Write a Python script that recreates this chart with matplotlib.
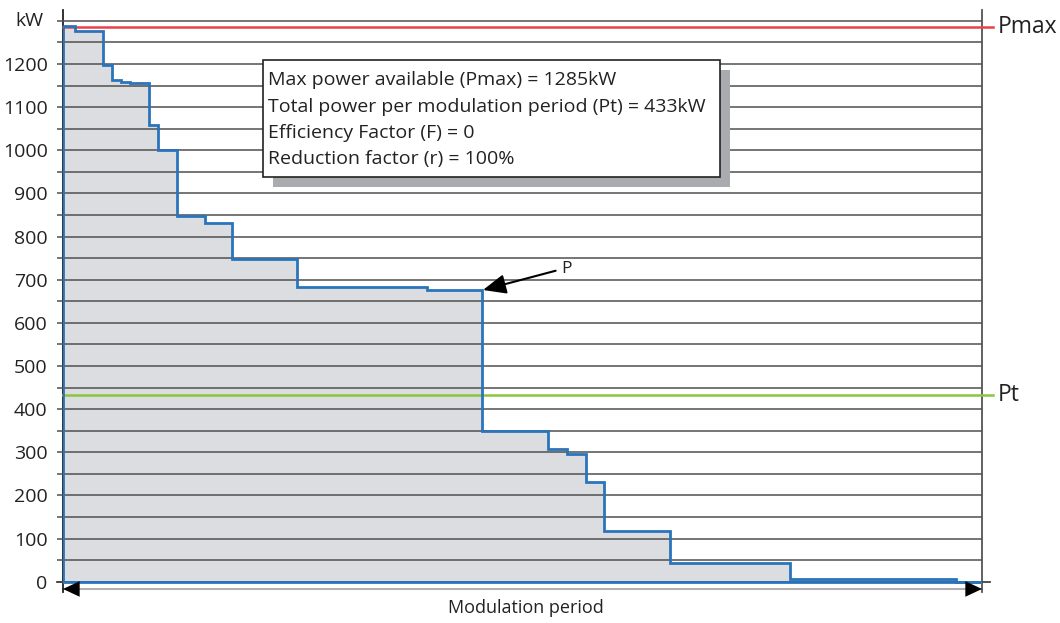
import matplotlib
matplotlib.use("Agg")
import matplotlib.pyplot as plt
from matplotlib.patches import Rectangle

plt.rcParams['font.family'] = ['Open Sans', 'DejaVu Sans']

# modulation period position (0-100 %) of each step edge, and the power of each step (kW)
step_edges = [0, 1.3, 4.3, 5.3, 6.3, 7.3, 9.4, 10.3, 12.4, 15.4, 18.4, 25.5,
              39.6, 45.6, 52.8, 54.8, 56.9, 58.9, 66.0, 79.1, 97.2, 100]
step_power = [1288, 1276, 1198, 1162, 1159, 1155, 1059, 1001, 847, 832, 748,
              683, 675, 350, 307, 295, 230, 118, 44, 7, 0]

p_max = 1285
p_total = 433
y_ticks = list(range(0, 1301, 100))
y_tick_labels = [str(v) for v in range(0, 1201, 100)] + [""]
minor_ticks = list(range(50, 1301, 100))

info_lines = [
    "Max power available (Pmax) = 1285kW",
    "Total power per modulation period (Pt) = 433kW",
    "Efficiency Factor (F) = 0",
    "Reduction factor (r) = 100%",
]

fig = plt.figure(figsize=(10.6, 6.23), dpi=100)
ax = fig.add_axes([63 / 1060, (623 - 592) / 623, 919 / 1060, 582 / 623])
ax.set_xlim(0, 100)
ax.set_ylim(-24, 1325)

# stepped power profile
ax.stairs(step_power, step_edges, baseline=0, fill=True, color="#dcdde0", zorder=1)
ax.stairs(step_power, step_edges, baseline=0, color="#2a74bb", lw=2, zorder=3)
ax.plot([step_edges[0], step_edges[-1]], [0, 0], color="#2a74bb", lw=2, zorder=3)

# grid + ticks
ax.set_yticks(y_ticks)
ax.set_yticklabels(y_tick_labels)
ax.set_yticks(minor_ticks, minor=True)
ax.set_xticks([])
ax.set_axisbelow(False)
ax.yaxis.grid(True, which="both", color="#505050", lw=1.1)
ax.tick_params(axis="y", which="both", length=4.5, width=1.1, color="#505050",
               labelsize=14, labelcolor="#222222", pad=6.5)
for side in ["top", "bottom"]:
    ax.spines[side].set_visible(False)
ax.spines["left"].set_color("#222222")
ax.spines["right"].set_color("#555555")
ax.spines["left"].set_linewidth(1.3)
ax.spines["right"].set_linewidth(1.3)
ax.text(-5.2, 1300, "kW", fontsize=14, color="#222222", ha="left", va="center")

# zero line running a little past the right axis
ax.plot([-0.6, 100.9], [0, 0], color="#444444", lw=1.3, clip_on=False, zorder=2.6)

# Pmax and Pt reference lines
ax.plot([0, 101.2], [p_max, p_max], color="#e8414a", lw=1.8, clip_on=False, zorder=2.8)
ax.plot([0, 101.2], [p_total, p_total], color="#8cc63f", lw=1.8, clip_on=False, zorder=2.8)
ax.text(101.7, p_max, "Pmax", fontsize=16.5, color="#222222", va="center", ha="left")
ax.text(101.7, p_total, "Pt", fontsize=16.5, color="#222222", va="center", ha="left")

# info box with drop shadow
ax.add_patch(Rectangle((22.9, 915), 49.7, 271, facecolor="#aaabae", edgecolor="none", zorder=4))
ax.add_patch(Rectangle((21.8, 938), 49.7, 271, facecolor="white", edgecolor="#222222", lw=1.2, zorder=5))
for i, line in enumerate(info_lines):
    ax.text(22.3, 1162 - i * 61, line, fontsize=14, color="#222222",
            va="center", ha="left", zorder=6)

# P marker arrow
ax.annotate("P", xy=(45.7, 676), xytext=(54.2, 724), fontsize=12.5, color="#222222",
            ha="left", va="center", zorder=6,
            arrowprops=dict(arrowstyle="-|>,head_length=0.7,head_width=0.3",
                            mutation_scale=20, color="black", lw=1.5,
                            relpos=(0, 0.5), shrinkA=2, shrinkB=0))

# modulation period double arrow
ax.plot([0, 100], [-17, -17], color="#b0b0b0", lw=1.5, clip_on=False, zorder=2)
for tip, tail in [(0, 2), (100, 98)]:
    ax.annotate("", xy=(tip, -17), xytext=(tail, -17), annotation_clip=False,
                arrowprops=dict(arrowstyle="-|>,head_length=0.6,head_width=0.28",
                                mutation_scale=20, color="black", lw=0,
                                shrinkA=0, shrinkB=0))
fig.text(526 / 1060, 1 - 608 / 623, "Modulation period", fontsize=13, color="#222222",
         ha="center", va="center")

fig.savefig("out.png", dpi=100)
